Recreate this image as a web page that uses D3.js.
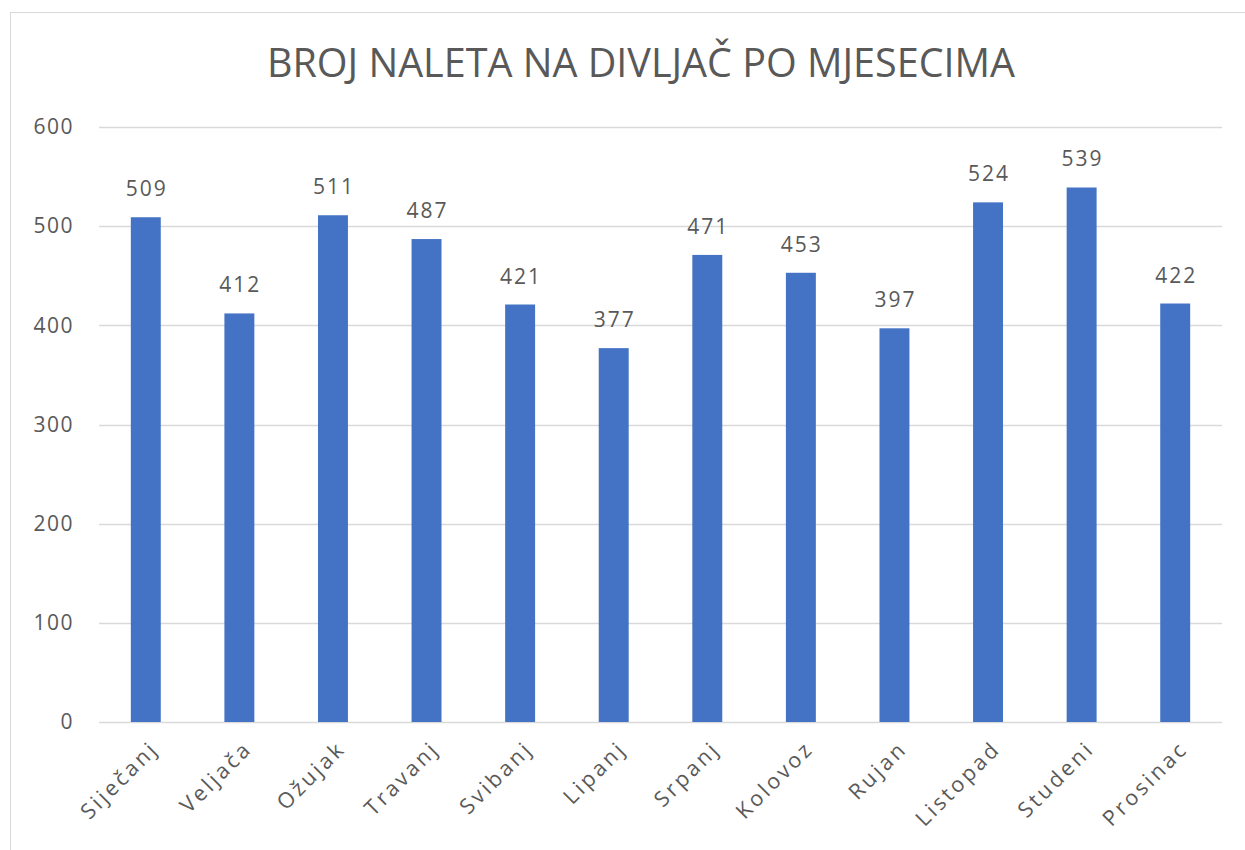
<!DOCTYPE html>
<html>
<head>
<meta charset="utf-8">
<script src="https://cdn.jsdelivr.net/npm/d3@7"></script>
<style>
  body { margin: 0; background: #fff; }
  svg text { font-family: "Open Sans", "Noto Sans", sans-serif; fill: #595959; }
</style>
</head>
<body>
<svg id="chart" width="1245" height="850"></svg>
<script>
var months = ["Siječanj", "Veljača", "Ožujak", "Travanj", "Svibanj", "Lipanj",
              "Srpanj", "Kolovoz", "Rujan", "Listopad", "Studeni", "Prosinac"];
var counts = [509, 412, 511, 487, 421, 377, 471, 453, 397, 524, 539, 422];
var yTicks = [0, 100, 200, 300, 400, 500, 600];
var chartTitle = "BROJ NALETA NA DIVLJAČ PO MJESECIMA";

var svg = d3.select("#chart");
var margin = { top: 127, bottom: 128, left: 99, right: 23 };
var width = 1245, height = 850;

// outer chart frame (runs off the right and bottom edge)
svg.append("rect")
    .attr("x", 10.5)
    .attr("y", 12.5)
    .attr("width", 1300)
    .attr("height", 900)
    .attr("fill", "#fff")
    .attr("stroke", "#d9d9d9")
    .attr("stroke-width", 1);

var x = d3.scaleBand()
    .domain(months)
    .range([margin.left, width - margin.right])
    .paddingInner(0.68)
    .paddingOuter(0.34);

var y = d3.scaleLinear()
    .domain([0, 600])
    .range([height - margin.bottom, margin.top]);

// gridlines
svg.append("g")
    .selectAll("line")
    .data(yTicks)
    .enter()
    .append("line")
    .attr("x1", margin.left)
    .attr("x2", width - margin.right)
    .attr("y1", d => Math.round(y(d)) + 0.5)
    .attr("y2", d => Math.round(y(d)) + 0.5)
    .attr("stroke", "#d9d9d9")
    .attr("stroke-width", 1.5);

// y axis labels
var yAxis = d3.axisLeft(y).tickValues(yTicks).tickSize(0).tickPadding(25);
svg.append("g")
    .attr("transform", `translate(${margin.left},0)`)
    .call(yAxis)
    .call(g => g.select(".domain").remove())
    .selectAll("text")
    .style("font-size", "21px")
    .style("letter-spacing", "1.5px")
    .attr("fill", "#595959");

// bars
svg.append("g")
    .selectAll("rect")
    .data(counts)
    .enter()
    .append("rect")
    .attr("x", (d, i) => x(months[i]))
    .attr("y", d => y(d))
    .attr("width", x.bandwidth())
    .attr("height", d => y(0) - y(d))
    .attr("fill", "#4472c4");

// data labels
svg.append("g")
    .selectAll("text")
    .data(counts)
    .enter()
    .append("text")
    .attr("x", (d, i) => x(months[i]) + x.bandwidth() / 2 + 1)
    .attr("y", d => y(d) - 21)
    .attr("text-anchor", "middle")
    .style("font-size", "21px")
    .style("letter-spacing", "2px")
    .text(d => d);

// x axis labels, rotated
var xAxis = d3.axisBottom(x).tickSize(0).tickPadding(0);
svg.append("g")
    .attr("transform", `translate(0,${height - margin.bottom})`)
    .call(xAxis)
    .call(g => g.select(".domain").remove())
    .selectAll("text")
    .style("font-size", "21.5px")
    .style("letter-spacing", "3px")
    .attr("fill", "#595959")
    .attr("dy", null)
    .attr("y", 0)
    .attr("text-anchor", "end")
    .attr("transform", "translate(14,28) rotate(-45)");

// title
svg.append("text")
    .attr("x", 641)
    .attr("y", 77)
    .attr("text-anchor", "middle")
    .style("font-size", "39.5px")
    .text(chartTitle);
</script>
</body>
</html>
